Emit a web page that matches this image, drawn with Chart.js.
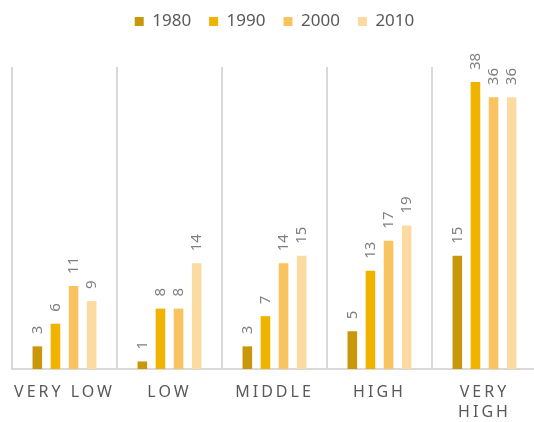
<!DOCTYPE html>
<html>
<head>
<meta charset="utf-8">
<script src="https://cdn.jsdelivr.net/npm/chart.js@4"></script>
<style>
  html, body { margin: 0; padding: 0; background: #fff; overflow: hidden; }
  #wrap { position: relative; width: 537px; height: 435px; }
</style>
</head>
<body>
<div id="wrap"><canvas id="incomeChart"></canvas></div>
<script>
const categories = ["VERY LOW", "LOW", "MIDDLE", "HIGH", ["VERY", "HIGH"]];
const years = ["1980", "1990", "2000", "2010"];
const values1980 = [3, 1, 3, 5, 15];
const values1990 = [6, 8, 7, 13, 38];
const values2000 = [11, 8, 14, 17, 36];
const values2010 = [9, 14, 15, 19, 36];
const colors = ["#C9970B", "#EFB300", "#F9C35F", "#FCDBA3"];

const FONT = "'Noto Sans', 'Open Sans', sans-serif";

// rotated value labels above each bar
const barLabels = {
    id: "barLabels",
    afterDatasetsDraw(chart) {
        const ctx = chart.ctx;
        ctx.save();
        ctx.fillStyle = "#7f7f7f";
        ctx.font = "15px " + FONT;
        ctx.textAlign = "left";
        ctx.textBaseline = "middle";
        chart.data.datasets.forEach((ds, i) => {
            chart.getDatasetMeta(i).data.forEach((bar, j) => {
                ctx.save();
                ctx.translate(bar.x, bar.y - 12);
                ctx.rotate(-Math.PI / 2);
                ctx.fillText(String(ds.data[j]), 0, 0);
                ctx.restore();
            });
        });
        ctx.restore();
    },
};

// extra gap under the legend
const legendGap = {
    id: "legendGap",
    beforeInit(chart) {
        const fit = chart.legend.fit;
        chart.legend.fit = function () {
            fit.call(this);
            this.height += 27;
        };
    },
};

// spaced-out capital letters on the category axis
const spacedTicks = {
    id: "spacedTicks",
    beforeDraw(chart) {
        const scale = chart.scales.x;
        const base = Object.getPrototypeOf(scale).drawLabels;
        scale.drawLabels = function (area) {
            const ctx = this.ctx;
            ctx.save();
            ctx.letterSpacing = "3px";
            base.call(this, area);
            ctx.restore();
        };
    },
};

new Chart(document.getElementById("incomeChart"), {
    type: "bar",
    data: {
        labels: categories,
        datasets: [
            { label: years[0], data: values1980, backgroundColor: colors[0] },
            { label: years[1], data: values1990, backgroundColor: colors[1] },
            { label: years[2], data: values2000, backgroundColor: colors[2] },
            { label: years[3], data: values2010, backgroundColor: colors[3] },
        ],
    },
    options: {
        responsive: true,
        maintainAspectRatio: false,
        animation: false,
        categoryPercentage: 0.69,
        barPercentage: 0.53,
        layout: { padding: { left: 12, right: 0, top: -5, bottom: 0 } },
        plugins: {
            tooltip: { enabled: false },
            legend: {
                position: "top",
                labels: {
                    boxWidth: 9,
                    boxHeight: 9,
                    padding: 18,
                    color: "#595959",
                    font: { family: FONT, size: 17 },
                },
            },
        },
        scales: {
            x: {
                grid: {
                    offset: true,
                    color: "#d9d9d9",
                    lineWidth: 2,
                    drawTicks: false,
                },
                border: { color: "#d9d9d9", width: 2 },
                ticks: {
                    color: "#595959",
                    padding: 13,
                    maxRotation: 0,
                    autoSkip: false,
                    font: { family: FONT, size: 16, lineHeight: 1.25 },
                },
            },
            y: {
                display: false,
                min: 0,
                max: 40,
            },
        },
    },
    plugins: [legendGap, barLabels, spacedTicks],
});
</script>
</body>
</html>
